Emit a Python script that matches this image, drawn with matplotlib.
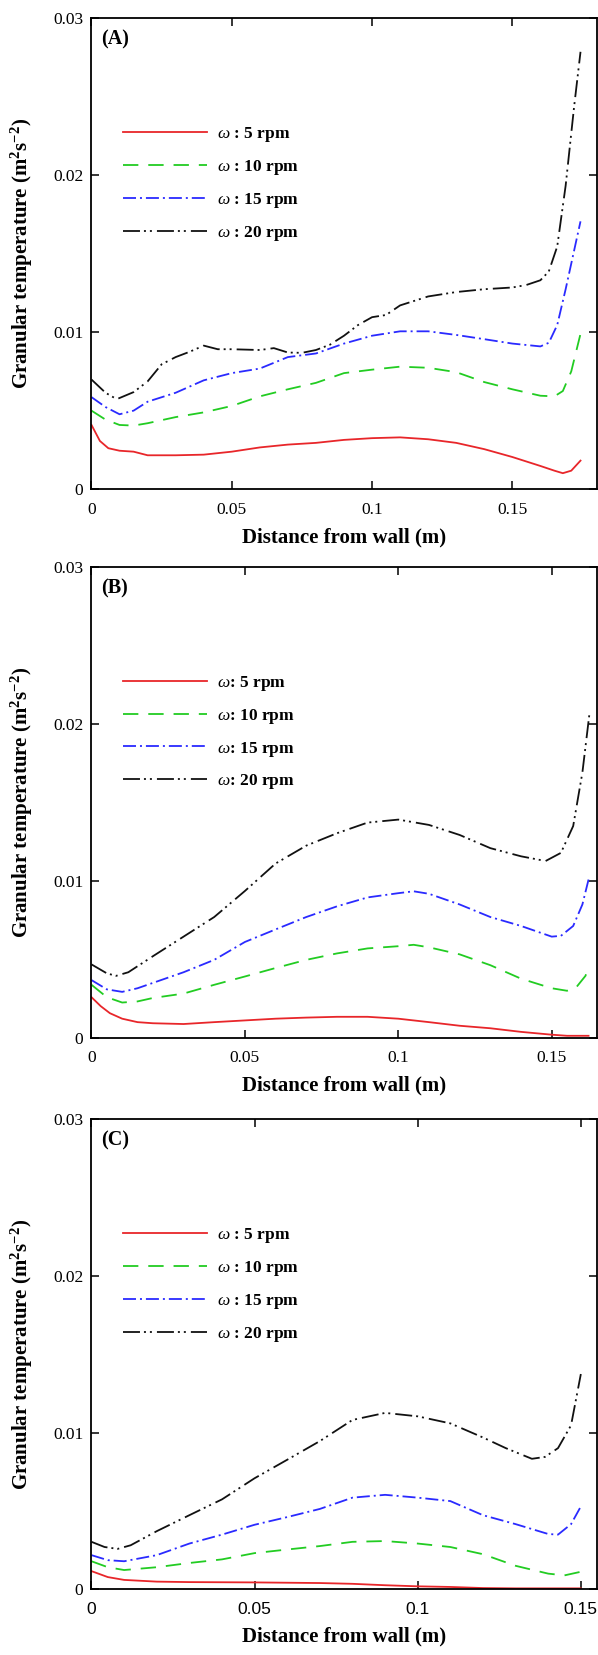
import matplotlib
matplotlib.use("Agg")
import matplotlib.pyplot as plt

plt.rcParams['font.family'] = ['Liberation Serif', 'DejaVu Serif']
plt.rcParams['mathtext.fontset'] = 'custom'
plt.rcParams['mathtext.rm'] = 'Liberation Serif:bold'
plt.rcParams['mathtext.it'] = 'Liberation Serif:italic'
plt.rcParams['mathtext.bf'] = 'Liberation Serif:bold'

# ---- panel A ----
xa_5 = [0, 0.003, 0.006, 0.01, 0.015, 0.02, 0.03, 0.04, 0.05, 0.06, 0.07, 0.08, 0.09, 0.1,
        0.11, 0.12, 0.13, 0.14, 0.15, 0.16, 0.165, 0.168, 0.171, 0.1743]
ta_5 = [0.00409, 0.00307, 0.00261, 0.00245, 0.00239, 0.00216, 0.00216, 0.0022, 0.00239, 0.00266,
        0.00284, 0.00295, 0.00314, 0.00325, 0.0033, 0.00318, 0.00295, 0.00255, 0.00205, 0.00148,
        0.00118, 0.00102, 0.00118, 0.00182]
xa_10 = [0, 0.005, 0.01, 0.015, 0.02, 0.03, 0.04, 0.05, 0.06, 0.07, 0.08, 0.09, 0.1, 0.11,
         0.12, 0.13, 0.14, 0.15, 0.16, 0.165, 0.168, 0.171, 0.1743]
ta_10 = [0.005, 0.00443, 0.00409, 0.00405, 0.0042, 0.00459, 0.00489, 0.0053, 0.00591, 0.00636,
         0.00677, 0.00739, 0.00761, 0.0078, 0.00773, 0.00745, 0.00682, 0.00636, 0.00595, 0.00591,
         0.00625, 0.0075, 0.00989]
xa_15 = [0, 0.005, 0.01, 0.015, 0.02, 0.03, 0.04, 0.05, 0.06, 0.07, 0.08, 0.09, 0.1, 0.11,
         0.12, 0.13, 0.14, 0.15, 0.16, 0.163, 0.166, 0.169, 0.1743]
ta_15 = [0.00586, 0.00523, 0.00477, 0.005, 0.00557, 0.00614, 0.00693, 0.00739, 0.00768, 0.00841,
         0.00864, 0.00927, 0.00977, 0.01005, 0.01005, 0.00982, 0.00955, 0.00927, 0.00909, 0.00932,
         0.01045, 0.01273, 0.01705]
xa_20 = [0, 0.005, 0.009, 0.015, 0.02, 0.025, 0.03, 0.035, 0.04, 0.045, 0.05, 0.06, 0.065, 0.07,
         0.075, 0.08, 0.085, 0.09, 0.095, 0.1, 0.105, 0.11, 0.12, 0.13, 0.14, 0.15, 0.155, 0.16,
         0.163, 0.166, 0.169, 0.172, 0.1743]
ta_20 = [0.00698, 0.00614, 0.00573, 0.00618, 0.00686, 0.00795, 0.00841, 0.00875, 0.00914, 0.00891,
         0.00891, 0.00886, 0.00898, 0.0087, 0.00868, 0.00886, 0.0092, 0.00977, 0.01045, 0.01095,
         0.01109, 0.0117, 0.01227, 0.01255, 0.01273, 0.01284, 0.013, 0.0133, 0.01386, 0.01545,
         0.01932, 0.02432, 0.02784]

# ---- panel B ----
xb_5 = [0, 0.003, 0.006, 0.01, 0.015, 0.02, 0.03, 0.04, 0.05, 0.06, 0.07, 0.08, 0.09, 0.1,
        0.11, 0.12, 0.13, 0.14, 0.15, 0.155, 0.162]
tb_5 = [0.00257, 0.002, 0.00155, 0.0012, 0.00098, 0.00091, 0.00086, 0.00098, 0.00109, 0.0012,
        0.00127, 0.00132, 0.00132, 0.0012, 0.00098, 0.00075, 0.00059, 0.00036, 0.00018, 0.00011,
        0.00011]
xb_10 = [0, 0.005, 0.01, 0.015, 0.02, 0.03, 0.04, 0.05, 0.06, 0.07, 0.08, 0.09, 0.1, 0.105,
         0.11, 0.12, 0.13, 0.14, 0.15, 0.155, 0.158, 0.161, 0.1623]
tb_10 = [0.00336, 0.00257, 0.00223, 0.0023, 0.00252, 0.0028, 0.00336, 0.00389, 0.00443, 0.00495,
         0.00536, 0.00568, 0.00582, 0.00591, 0.00575, 0.0053, 0.00461, 0.00375, 0.00314, 0.00298,
         0.0032, 0.00393, 0.00461]
xb_15 = [0, 0.005, 0.01, 0.015, 0.02, 0.03, 0.04, 0.05, 0.06, 0.07, 0.08, 0.09, 0.1, 0.105,
         0.11, 0.12, 0.13, 0.14, 0.15, 0.153, 0.157, 0.16, 0.1623]
tb_15 = [0.00366, 0.00307, 0.00291, 0.00314, 0.00348, 0.00416, 0.00495, 0.00609, 0.00689, 0.00768,
         0.00836, 0.00893, 0.0092, 0.00932, 0.00916, 0.00848, 0.00768, 0.00711, 0.00643, 0.00648,
         0.00711, 0.00848, 0.0103]
xb_20 = [0, 0.005, 0.008, 0.012, 0.02, 0.03, 0.04, 0.05, 0.06, 0.07, 0.08, 0.09, 0.1, 0.11,
         0.12, 0.13, 0.14, 0.148, 0.153, 0.157, 0.16, 0.1623]
tb_20 = [0.00466, 0.00409, 0.00393, 0.00416, 0.00518, 0.00643, 0.00768, 0.00934, 0.01109, 0.01223,
         0.01302, 0.0137, 0.01389, 0.01355, 0.01291, 0.01207, 0.01155, 0.01125, 0.01177, 0.01348,
         0.01689, 0.02064]

# ---- panel C ----
xc_5 = [0, 0.005, 0.01, 0.02, 0.03, 0.05, 0.07, 0.08, 0.09, 0.1, 0.11, 0.12, 0.13, 0.15]
tc_5 = [0.00117, 0.00079, 0.00061, 0.0005, 0.00047, 0.00045, 0.00041, 0.00036, 0.00027, 0.0002,
        0.00016, 0.00009, 0.00007, 0.00007]
xc_10 = [0, 0.005, 0.01, 0.02, 0.03, 0.04, 0.05, 0.06, 0.07, 0.08, 0.09, 0.1, 0.11, 0.12,
         0.13, 0.14, 0.145, 0.15]
tc_10 = [0.0018, 0.00142, 0.00124, 0.00142, 0.00169, 0.00192, 0.00232, 0.00255, 0.00277, 0.00304,
         0.00309, 0.00293, 0.00271, 0.00225, 0.00151, 0.00101, 0.0009, 0.00113]
xc_15 = [0, 0.005, 0.01, 0.02, 0.03, 0.04, 0.05, 0.06, 0.07, 0.08, 0.09, 0.1, 0.11, 0.12,
         0.13, 0.14, 0.143, 0.147, 0.15]
tc_15 = [0.00219, 0.00187, 0.0018, 0.00219, 0.00293, 0.0035, 0.00413, 0.00462, 0.00514, 0.00586,
         0.00604, 0.00586, 0.00564, 0.00474, 0.00417, 0.00354, 0.0035, 0.00417, 0.0053]
xc_20 = [0, 0.004, 0.008, 0.012, 0.02, 0.03, 0.04, 0.05, 0.06, 0.07, 0.08, 0.09, 0.1, 0.11,
         0.12, 0.127, 0.135, 0.139, 0.143, 0.147, 0.15]
tc_20 = [0.00304, 0.00271, 0.00259, 0.00282, 0.00372, 0.00474, 0.00575, 0.0071, 0.00828, 0.00947,
         0.01082, 0.01127, 0.01105, 0.0106, 0.0097, 0.00902, 0.00834, 0.00846, 0.00902, 0.01048,
         0.01375]

speeds = ['5', '10', '15', '20']
colors = ['#e8262a', '#22cc22', '#2a2aff', '#111111']
dashes = ['-', (0, (8.5, 5.5)), (0, (7.2, 2.2, 1.1, 2.2)), (0, (9.4, 2.2, 1.1, 2.2, 1.1, 2.8))]

panels = [
    ('(A)', [(xa_5, ta_5), (xa_10, ta_10), (xa_15, ta_15), (xa_20, ta_20)], 0.18, ' : '),
    ('(B)', [(xb_5, tb_5), (xb_10, tb_10), (xb_15, tb_15), (xb_20, tb_20)], 0.1646, ': '),
    ('(C)', [(xc_5, tc_5), (xc_10, tc_10), (xc_15, tc_15), (xc_20, tc_20)], 0.1548, ' : '),
]
boxes = [(0.153, 0.7044, 0.8445, 0.2848),
         (0.153, 0.3731, 0.8445, 0.2844),
         (0.153, 0.0396, 0.8445, 0.2840)]

fig = plt.figure(figsize=(5.98, 16.55), dpi=100)
for k, (tag, series, xmax, sep) in enumerate(panels):
    ax = fig.add_axes(boxes[k])
    for (xs, ts), sp, c, ls in zip(series, speeds, colors, dashes):
        ax.plot(xs, ts, color=c, linestyle=ls, lw=1.3,
                label=r'$\omega$' + sep + sp + ' rpm')
    ax.set_xlim(0, xmax)
    ax.set_ylim(0, 0.03)
    ax.set_xticks([0, 0.05, 0.1, 0.15])
    ax.set_xticklabels(['0', '0.05', '0.1', '0.15'])
    ax.set_yticks([0, 0.01, 0.02, 0.03])
    ax.set_yticklabels(['0', '0.01', '0.02', '0.03'])
    ax.tick_params(direction='in', length=6, width=1.1, top=True, right=True,
                   labelsize=12.5)
    ax.tick_params(axis='x', pad=9)
    ax.tick_params(axis='y', pad=6)
    if k == 2:
        for lab in ax.get_xticklabels():
            lab.set_fontfamily('Liberation Sans')
    for s in ax.spines.values():
        s.set_linewidth(1.3)
    ax.set_xlabel('Distance from wall (m)', fontsize=15, fontweight='bold', labelpad=7)
    ax.set_ylabel(r'Granular temperature (m$^{2}$s$^{-2}$)', fontsize=15, fontweight='bold')
    ax.yaxis.set_label_coords(-0.112, 0.5)
    ax.text(0.02, 0.976, tag, transform=ax.transAxes, fontsize=14.5, fontweight='bold',
            va='top', ha='left')
    ax.legend(loc='upper left', bbox_to_anchor=(0.032, 0.806), frameon=False,
              handlelength=4.8, handletextpad=0.6, labelspacing=0.8,
              prop={'size': 12.5, 'weight': 'bold'})

fig.savefig('out.png', dpi=100)
